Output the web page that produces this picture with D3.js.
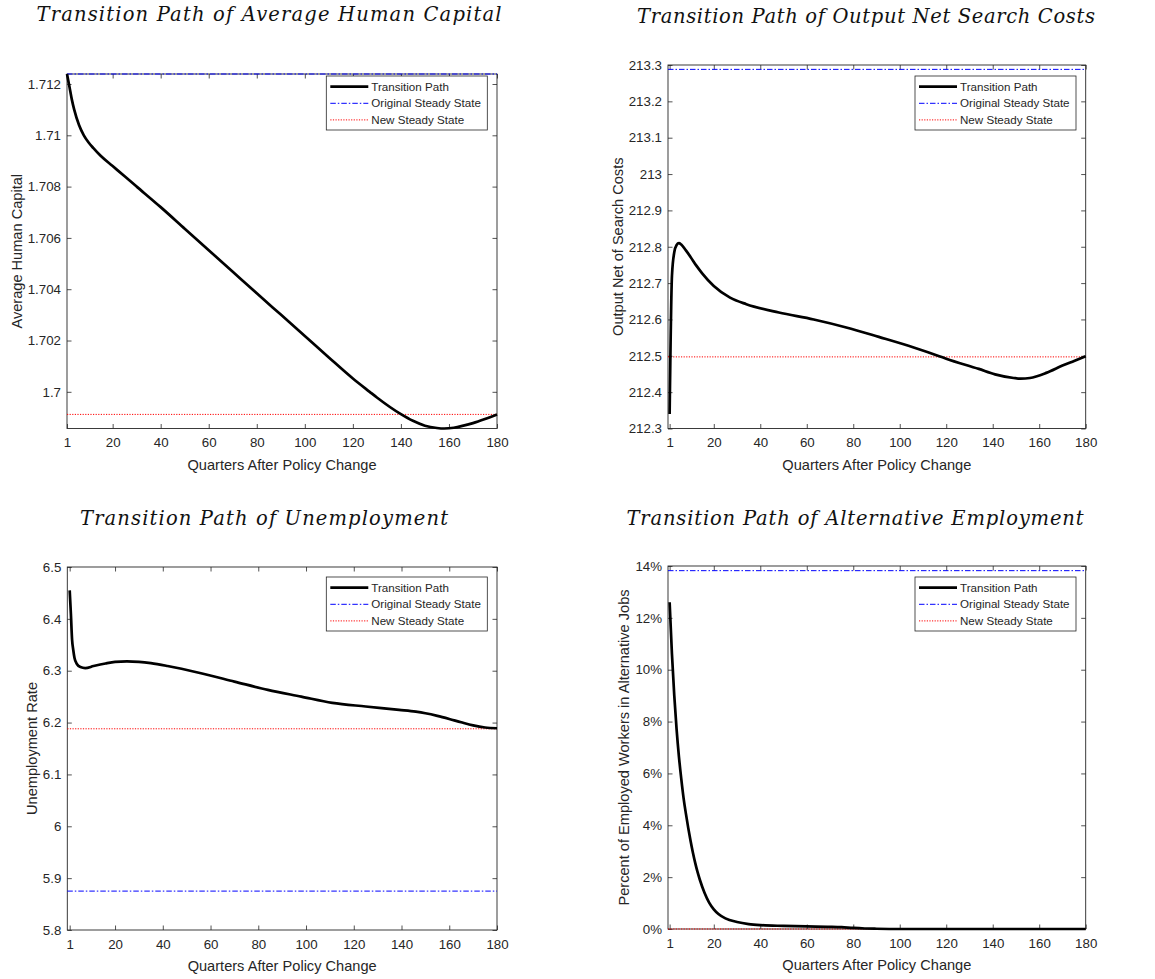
<!DOCTYPE html>
<html>
<head>
<meta charset="utf-8">
<script src="https://cdn.jsdelivr.net/npm/d3@7"></script>
<style>
body { margin: 0; background: #fff; }
svg text { font-family: "Liberation Sans", Arial, sans-serif; fill: #262626; }
svg text.title { font-family: "DejaVu Serif", "Liberation Serif", serif; font-style: italic; fill: #111; }
</style>
</head>
<body>
<div id="chart"></div>
<script>
let width = 1155;
let height = 979;

// Quarter ticks shared by all four panels
let quarterTicks = [1, 20, 40, 60, 80, 100, 120, 140, 160, 180];

// Titles and axis labels
let titles = [
    "Transition Path of Average Human Capital",
    "Transition Path of Output Net Search Costs",
    "Transition Path of Unemployment",
    "Transition Path of Alternative Employment"
];
let yLabels = [
    "Average Human Capital",
    "Output Net of Search Costs",
    "Unemployment Rate",
    "Percent of Employed Workers in Alternative Jobs"
];
let xLabel = "Quarters After Policy Change";
let legendNames = ["Transition Path", "Original Steady State", "New Steady State"];

// Steady state levels (one per panel)
let originalSteadyState = [1.71239, 213.288, 5.875, 13.82];
let newSteadyState = [1.69912, 212.497, 6.188, 0];

// Average human capital
let humanCapQ = [1, 2, 3, 4, 6, 8, 10, 12, 15, 20, 25, 30, 40, 50, 60, 70, 80, 90, 100, 110, 120, 127, 130, 140, 145, 150, 155, 158, 162, 166, 170, 175, 180];
let humanCapV = [1.71239, 1.7119, 1.7114, 1.7110, 1.7104, 1.7100, 1.70972, 1.7095, 1.7092, 1.7088, 1.7084, 1.7080, 1.7072, 1.70636, 1.70552, 1.70468, 1.70384, 1.70301, 1.70218, 1.70134, 1.70052, 1.7, 1.69978, 1.69913, 1.69887, 1.69868, 1.69859, 1.69857, 1.6986, 1.69868, 1.69878, 1.69894, 1.69912];

// Output net of search costs
let outputQ = [1, 2, 3, 4, 5, 6, 8, 10, 12.5, 15, 20, 27, 34, 48, 63, 77, 91, 106, 117, 120, 134, 141, 149, 152, 156, 163, 170, 175, 180];
let outputV = [212.34, 212.72, 212.785, 212.805, 212.81, 212.806, 212.79, 212.772, 212.748, 212.727, 212.692, 212.66, 212.642, 212.619, 212.600, 212.578, 212.552, 212.523, 212.499, 212.492, 212.464, 212.449, 212.439, 212.437, 212.439, 212.453, 212.473, 212.486, 212.499];

// Unemployment rate
let unempQ = [1, 1.5, 2, 2.5, 3, 4, 5.5, 7.5, 11, 16, 20, 25, 30, 35, 42, 56, 70, 84, 98, 111, 125, 139, 146, 150, 155, 160, 165, 170, 175, 180];
let unempV = [6.455, 6.41, 6.36, 6.34, 6.325, 6.313, 6.307, 6.305, 6.309, 6.314, 6.317, 6.318, 6.317, 6.3145, 6.309, 6.295, 6.279, 6.263, 6.25, 6.238, 6.231, 6.2245, 6.221, 6.218, 6.213, 6.207, 6.2005, 6.1945, 6.1905, 6.189];

// Percent of employed workers in alternative jobs
let altQ = [1, 2, 3, 4, 5, 6, 7, 8, 9, 10, 11, 12, 13, 14, 16, 18, 20, 22, 25, 30, 35, 40, 50, 60, 70, 75, 80, 85, 90, 100, 120, 150, 180];
let altV = [12.6, 10.6, 9.0, 7.7, 6.65, 5.8, 5.05, 4.45, 3.9, 3.4, 2.95, 2.55, 2.2, 1.9, 1.4, 1.02, 0.76, 0.58, 0.41, 0.27, 0.19, 0.15, 0.12, 0.1, 0.085, 0.07, 0.04, 0.02, 0.01, 0, 0, 0, 0];

// Y tick values per panel
let humanCapTicks = [1.7, 1.702, 1.704, 1.706, 1.708, 1.71, 1.712];
let outputTicks = [212.3, 212.4, 212.5, 212.6, 212.7, 212.8, 212.9, 213, 213.1, 213.2, 213.3];
let unempTicks = [5.8, 5.9, 6, 6.1, 6.2, 6.3, 6.4, 6.5];
let altTicks = [0, 2, 4, 6, 8, 10, 12, 14];

let panels = [
    {q: humanCapQ, v: humanCapV, ticks: humanCapTicks, yDomain: [1.69857, 1.71239], xDomain: [1, 180],
     box: {left: 67, right: 497, top: 74, bottom: 428.5}, legendTop: 76, yLabelX: 17,
     title: {cx: 269, y: 21, w: 465}, fmt: d => String(+d.toFixed(3))},
    {q: outputQ, v: outputV, ticks: outputTicks, yDomain: [212.3, 213.3], xDomain: [0.3, 180],
     box: {left: 668, right: 1085.7, top: 65, bottom: 428.5}, legendTop: 76, yLabelX: 617.5,
     title: {cx: 866, y: 23, w: 458}, fmt: d => String(+d.toFixed(1))},
    {q: unempQ, v: unempV, ticks: unempTicks, yDomain: [5.8, 6.5], xDomain: [0, 180],
     box: {left: 67.3, right: 497, top: 567, bottom: 930}, legendTop: 577, yLabelX: 31.7,
     title: {cx: 264, y: 525, w: 368}, fmt: d => String(+d.toFixed(1))},
    {q: altQ, v: altV, ticks: altTicks, yDomain: [0, 14], xDomain: [0.3, 180],
     box: {left: 668, right: 1085.7, top: 566, bottom: 929}, legendTop: 577, yLabelX: 624,
     title: {cx: 855, y: 525, w: 457}, fmt: d => d + "%"}
];

let svg = d3.select("#chart")
    .append("svg")
    .attr("width", width)
    .attr("height", height);

let axisColor = "#262626";
let tickLen = 4.5;

panels.forEach(function (p, i) {
    let b = p.box;
    let g = svg.append("g");

    let xScale = d3.scaleLinear().domain(p.xDomain).range([b.left, b.right]);
    let yScale = d3.scaleLinear().domain(p.yDomain).range([b.bottom, b.top]);

    // Axes: bottom/left with labels, top/right mirrored ticks only
    g.append("g")
        .attr("transform", "translate(0," + b.bottom + ")")
        .call(d3.axisBottom(xScale).tickValues(quarterTicks).tickSizeInner(-tickLen).tickSizeOuter(0).tickPadding(9.5));
    g.append("g")
        .attr("transform", "translate(0," + b.top + ")")
        .call(d3.axisTop(xScale).tickValues(quarterTicks).tickSizeInner(-tickLen).tickSizeOuter(0).tickFormat(""));
    g.append("g")
        .attr("transform", "translate(" + b.left + ",0)")
        .call(d3.axisLeft(yScale).tickValues(p.ticks).tickFormat(p.fmt).tickSizeInner(-tickLen).tickSizeOuter(0).tickPadding(6));
    g.append("g")
        .attr("transform", "translate(" + b.right + ",0)")
        .call(d3.axisRight(yScale).tickValues(p.ticks).tickSizeInner(-tickLen).tickSizeOuter(0).tickFormat(""));

    g.selectAll(".domain").remove();
    g.selectAll(".tick line").attr("stroke", axisColor).attr("stroke-width", 0.8);
    g.selectAll(".tick text")
        .attr("fill", axisColor)
        .style("font-size", "13.3px")
        .style("font-family", "'Liberation Sans', Arial, sans-serif");

    // box outline
    g.append("rect")
        .attr("x", b.left).attr("y", b.top)
        .attr("width", b.right - b.left).attr("height", b.bottom - b.top)
        .attr("fill", "none")
        .attr("stroke", axisColor)
        .attr("stroke-width", 0.9);

    // axis labels
    g.append("text")
        .attr("x", (b.left + b.right) / 2)
        .attr("y", b.bottom + 41)
        .attr("text-anchor", "middle")
        .style("font-size", "14.6px")
        .text(xLabel);

    g.append("text")
        .attr("transform", "translate(" + p.yLabelX + "," + ((b.top + b.bottom) / 2) + ") rotate(-90)")
        .attr("text-anchor", "middle")
        .attr("dy", "0.36em")
        .style("font-size", "14.6px")
        .text(yLabels[i]);

    // title
    g.append("text")
        .attr("class", "title")
        .attr("x", p.title.cx)
        .attr("y", p.title.y)
        .attr("text-anchor", "middle")
        .attr("textLength", p.title.w)
        .attr("lengthAdjust", "spacing")
        .style("font-size", "19.5px")
        .text(titles[i]);

    // steady state lines
    g.append("line")
        .attr("x1", b.left).attr("x2", b.right)
        .attr("y1", yScale(originalSteadyState[i])).attr("y2", yScale(originalSteadyState[i]))
        .attr("stroke", "#0000ff")
        .attr("stroke-width", 1)
        .attr("stroke-dasharray", "5.5,2,1.5,2");

    g.append("line")
        .attr("x1", b.left).attr("x2", b.right)
        .attr("y1", yScale(newSteadyState[i])).attr("y2", yScale(newSteadyState[i]))
        .attr("stroke", "#ff0000")
        .attr("stroke-width", 1)
        .attr("stroke-dasharray", "1.2,1.4");

    // transition path
    let line = d3.line()
        .x(function (d, j) { return xScale(p.q[j]); })
        .y(function (d) { return yScale(d); })
        .curve(d3.curveMonotoneX);

    g.append("path")
        .datum(p.v)
        .attr("d", line)
        .attr("fill", "none")
        .attr("stroke", "#000")
        .attr("stroke-width", 2.7)
        .attr("stroke-linejoin", "round");

    // legend
    let legW = 161;
    let legX = b.right - 9.7 - legW;
    let legY = p.legendTop;
    let leg = g.append("g");
    leg.append("rect")
        .attr("x", legX).attr("y", legY)
        .attr("width", legW).attr("height", 54)
        .attr("fill", "#fff")
        .attr("stroke", axisColor)
        .attr("stroke-width", 0.8);

    let legStyles = [
        {stroke: "#000", width: 2.7, dash: null},
        {stroke: "#0000ff", width: 1, dash: "5.5,2,1.5,2"},
        {stroke: "#ff0000", width: 1, dash: "1.2,1.4"}
    ];
    legendNames.forEach(function (name, k) {
        let ry = legY + 10.7 + k * 16.6;
        leg.append("line")
            .attr("x1", legX + 4).attr("x2", legX + 42)
            .attr("y1", ry).attr("y2", ry)
            .attr("stroke", legStyles[k].stroke)
            .attr("stroke-width", legStyles[k].width)
            .attr("stroke-dasharray", legStyles[k].dash);
        leg.append("text")
            .attr("x", legX + 45)
            .attr("y", ry)
            .attr("dy", "0.36em")
            .style("font-size", "11.6px")
            .attr("fill", "#000")
            .text(name);
    });
});
</script>
</body>
</html>
